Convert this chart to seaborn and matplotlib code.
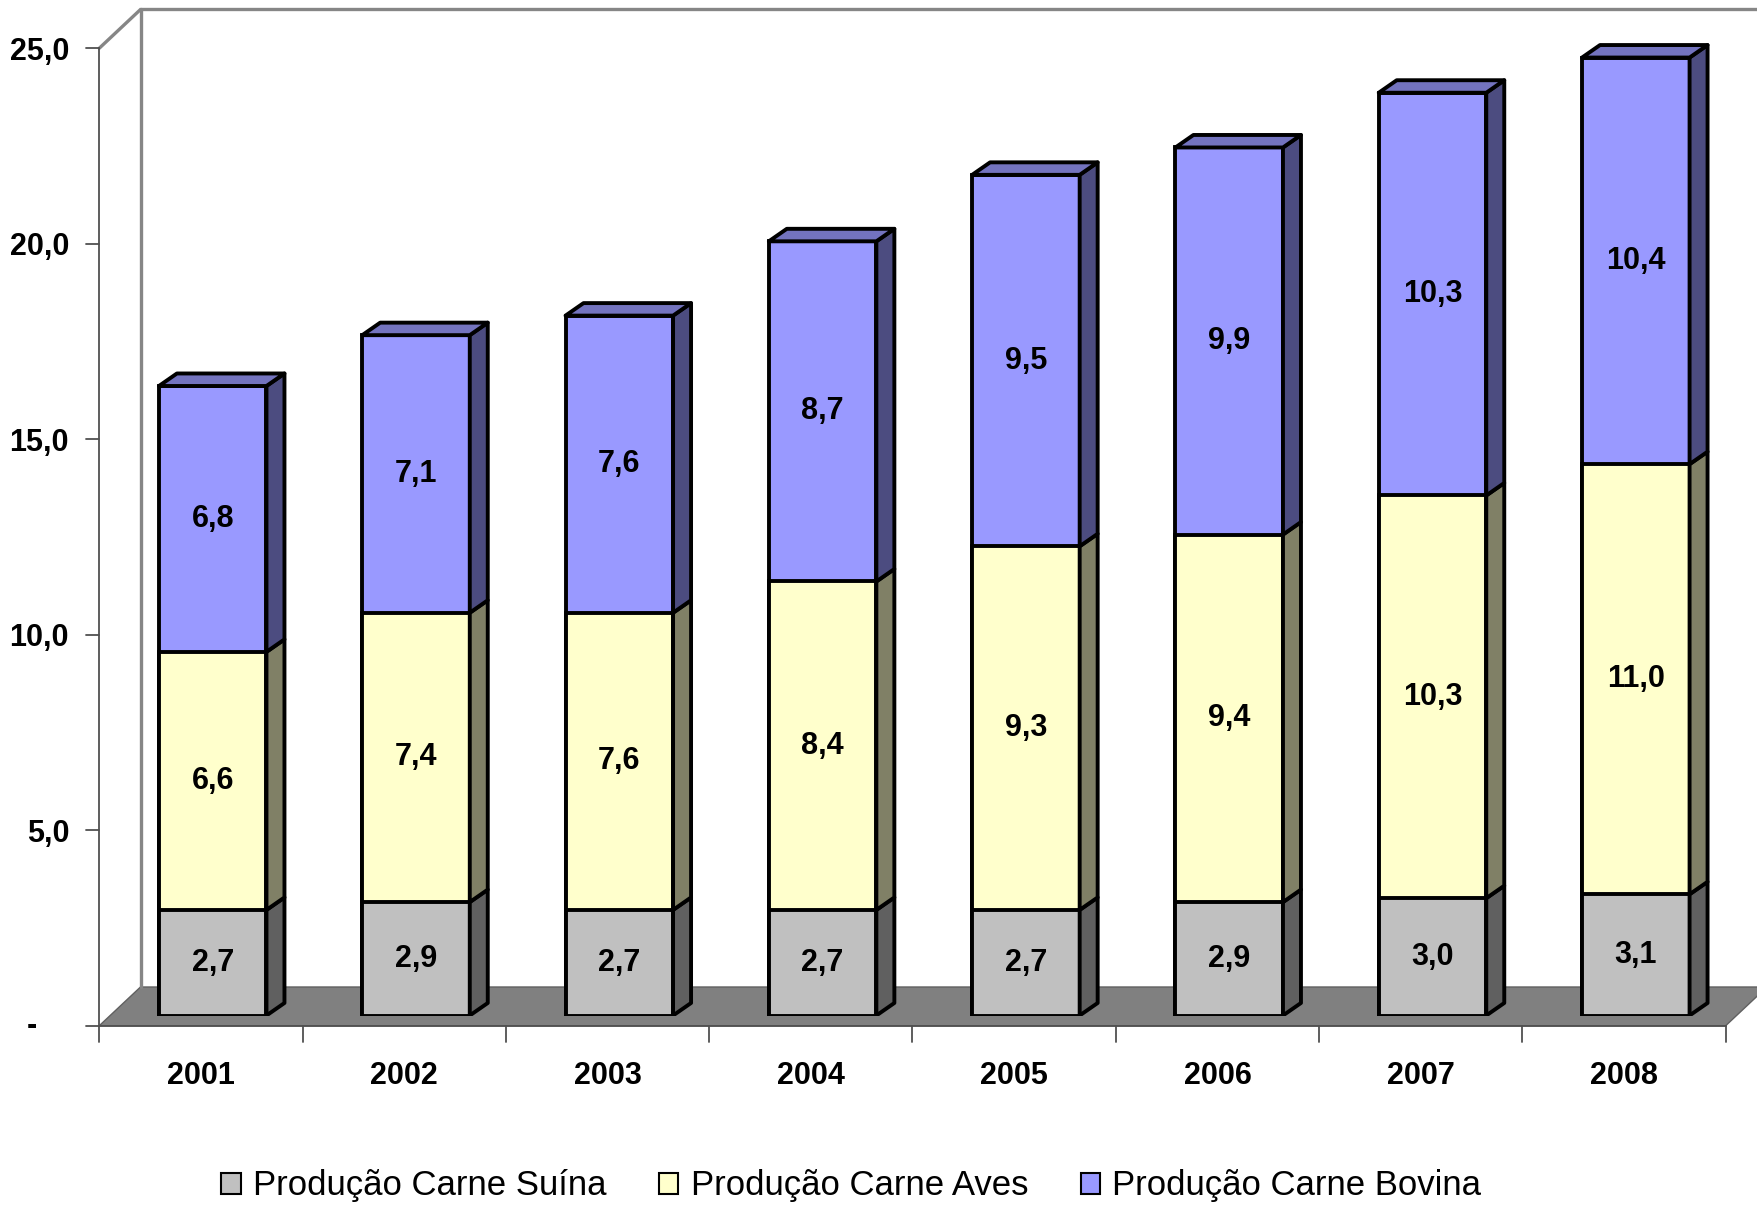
import numpy as np
import pandas as pd
import matplotlib
matplotlib.use('Agg')
import matplotlib.pyplot as plt
from matplotlib.patches import Polygon, Patch
import seaborn as sns

# dados (milhões de toneladas)
years = ['2001', '2002', '2003', '2004', '2005', '2006', '2007', '2008']
suina = [2.7, 2.9, 2.7, 2.7, 2.7, 2.9, 3.0, 3.1]
aves = [6.6, 7.4, 7.6, 8.4, 9.3, 9.4, 10.3, 11.0]
bovina = [6.8, 7.1, 7.6, 8.7, 9.5, 9.9, 10.3, 10.4]

series_names = ['Produção Carne Suína', 'Produção Carne Aves', 'Produção Carne Bovina']
front_colors = ['#C0C0C0', '#FFFFCC', '#9999FF']
side_colors = ['#606060', '#808066', '#4C4C80']
top_colors = ['#909090', '#BFBF99', '#7373BF']

y_ticks = [0, 5, 10, 15, 20, 25]
y_tick_labels = ['-', '5,0', '10,0', '15,0', '20,0', '25,0']

sns.set_style('white')
plt.rcParams['font.family'] = ['Liberation Sans Narrow', 'Liberation Sans', 'DejaVu Sans']
plt.rcParams['text.color'] = 'black'
plt.rcParams['xtick.color'] = 'black'
plt.rcParams['ytick.color'] = 'black'

df = pd.DataFrame({'ano': years, 'suina': suina, 'aves': aves, 'bovina': bovina})
df['c1'] = df['suina']
df['c2'] = df['c1'] + df['aves']
df['c3'] = df['c2'] + df['bovina']

# pseudo 3D geometry (data units of the bar plane)
BAR_W = 0.529
DEPTH_X, DEPTH_Y = 0.0885, 0.32
FRONT_X, FRONT_Y = -0.0578, -0.261
WALL_X, WALL_Y = 0.2027, 0.99
LW = 2.8
LBL = 22

fig = plt.figure(figsize=(17.57, 12.05), dpi=100)
ax = fig.add_axes([0.063204, 0.157261, 0.925669, 0.811203])

# front faces: cumulative bars drawn back to front
for col, color in zip(['c3', 'c2', 'c1'], front_colors[::-1]):
    sns.barplot(data=df, x='ano', y=col, color=color, saturation=1, width=BAR_W,
                edgecolor='black', linewidth=LW, errorbar=None, ax=ax, zorder=2)

ax.set_xlim(-0.5, 7.5)
ax.set_ylim(0, 25)
ax.set_xlabel('')
ax.set_ylabel('')
for s in ax.spines.values():
    s.set_visible(False)

# floor and walls
fx0, fx1 = -0.5 + FRONT_X, 7.5 + FRONT_X
fy0, fy1 = FRONT_Y, 25 + FRONT_Y
floor = Polygon([(fx0, fy0), (fx1, fy0), (fx1 + WALL_X, fy0 + WALL_Y), (fx0 + WALL_X, fy0 + WALL_Y)],
                closed=True, facecolor='#808080', edgecolor='#606060', linewidth=1, zorder=0.5,
                clip_on=False)
ax.add_patch(floor)
ax.plot([fx0, fx0 + WALL_X, fx1 + WALL_X + 0.2], [fy1, fy1 + WALL_Y, fy1 + WALL_Y],
        color='#868686', lw=2.4, clip_on=False, zorder=0.6, solid_joinstyle='miter')
ax.plot([fx0 + WALL_X, fx0 + WALL_X], [fy0 + WALL_Y, fy1 + WALL_Y],
        color='#868686', lw=2.4, clip_on=False, zorder=0.6)

# front axes
ax.plot([fx0, fx0], [fy0, fy1], color='#505050', lw=1.3, clip_on=False, zorder=0.7)
ax.plot([fx0 - 0.064, fx1], [fy0, fy0], color='#505050', lw=1.3, clip_on=False, zorder=0.7)
for v in y_ticks[1:]:
    ax.plot([fx0 - 0.064, fx0], [v + FRONT_Y, v + FRONT_Y], color='#505050', lw=1.3,
            clip_on=False, zorder=0.7)
for k in range(len(years) + 1):
    ax.plot([fx0 + k, fx0 + k], [fy0, fy0 - 0.41], color='#505050', lw=1.3,
            clip_on=False, zorder=0.7)

# sides, tops and value labels
stack = [suina, aves, bovina]
for i in range(len(years)):
    bottom = 0.0
    xl, xr = i - BAR_W / 2, i + BAR_W / 2
    for s, vals in enumerate(stack):
        h = vals[i]
        top = bottom + h
        side = Polygon([(xr, bottom), (xr + DEPTH_X, bottom + DEPTH_Y),
                        (xr + DEPTH_X, top + DEPTH_Y), (xr, top)], closed=True,
                       facecolor=side_colors[s], edgecolor='black', linewidth=LW,
                       joinstyle='round', zorder=2)
        ax.add_patch(side)
        ax.text(i, bottom + h / 2, f'{h:.1f}'.replace('.', ','), ha='center',
                va='center', fontsize=LBL, fontweight='bold', zorder=4)
        bottom = top
    cap = Polygon([(xl, bottom), (xl + DEPTH_X, bottom + DEPTH_Y),
                   (xr + DEPTH_X, bottom + DEPTH_Y), (xr, bottom)], closed=True,
                  facecolor=top_colors[2], edgecolor='black', linewidth=LW,
                  joinstyle='round', zorder=2, clip_on=False)
    ax.add_patch(cap)

# tick labels
ax.set_yticks([v + FRONT_Y for v in y_ticks[1:]], y_tick_labels[1:])
ax.set_xticks(np.arange(len(years)) + FRONT_X, years)
ax.tick_params(axis='y', length=0, pad=30.2, labelsize=LBL)
ax.tick_params(axis='x', length=0, pad=33, labelsize=LBL)
plt.setp(ax.get_yticklabels(), fontweight='bold')
plt.setp(ax.get_xticklabels(), fontweight='bold')
ax.text(-0.889, FRONT_Y, y_tick_labels[0], ha='center', va='center', fontsize=LBL,
        fontweight='bold', clip_on=False)

handles = [Patch(facecolor=c, edgecolor='black', linewidth=1.5) for c in front_colors]
fig.legend(handles, series_names, loc='center', bbox_to_anchor=(0.4846, 0.0158), ncol=3,
           frameon=False, fontsize=25, handlelength=0.55, handleheight=0.55,
           handletextpad=0.35, columnspacing=1.53)

fig.savefig('out.png', dpi=100)
